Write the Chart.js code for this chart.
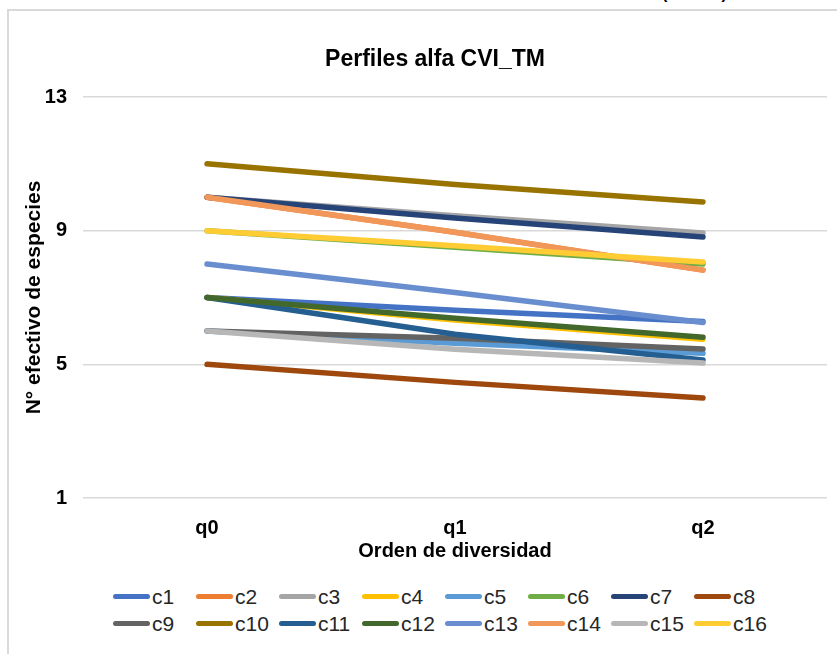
<!DOCTYPE html>
<html>
<head>
<meta charset="utf-8">
<script src="https://cdn.jsdelivr.net/npm/chart.js@4.4.1/dist/chart.umd.min.js"></script>
<style>
body { margin: 0; background: #fff; overflow: hidden; width: 837px; height: 654px; position: relative; font-family: "Liberation Sans", Arial, sans-serif; }
#frame { position: absolute; left: 7px; top: 9px; width: 900px; height: 700px; border-left: 2px solid #d9d9d9; border-top: 2px solid #d9d9d9; }
#above { position: absolute; left: 662px; top: -16px; font: bold 16px "Liberation Sans", Arial, sans-serif; line-height: 20px; white-space: nowrap; color: #000; }
#myChart { position: absolute; left: 0; top: 0; }
#legend { position: absolute; left: 113px; top: 583px; width: 720px; }
.row { display: flex; height: 27px; align-items: center; }
.item { width: 83px; display: flex; align-items: center; flex: none; }
.swatch { width: 37px; height: 5px; border-radius: 3px; margin-right: 2px; }
.lbl { font-size: 21px; color: #262626; white-space: nowrap; }
</style>
</head>
<body>
<div id="above">(CVI TM)</div>
<div id="frame"></div>
<canvas id="myChart" width="870" height="580" style="width:870px;height:580px"></canvas>
<div id="legend"></div>
<script>
var ordenes = ["q0", "q1", "q2"];
var yTicks = [1, 5, 9, 13];

// numero efectivo de especies por orden q
var c1 = [7, 6.62, 6.28];
var c2 = [10, 8.95, 7.82];
var c3 = [10, 9.45, 8.93];
var c4 = [7, 6.33, 5.75];
var c5 = [6, 5.63, 5.33];
var c6 = [9, 8.5, 8.0];
var c7 = [10, 9.38, 8.81];
var c8 = [5, 4.46, 3.99];
var c9 = [6, 5.78, 5.46];
var c10 = [11, 10.38, 9.86];
var c11 = [7, 5.9, 5.13];
var c12 = [7, 6.38, 5.81];
var c13 = [8, 7.15, 6.25];
var c14 = [10, 8.95, 7.82];
var c15 = [6, 5.45, 5.04];
var c16 = [9, 8.55, 8.06];

var nombres = ["c1","c2","c3","c4","c5","c6","c7","c8","c9","c10","c11","c12","c13","c14","c15","c16"];
var series = [c1,c2,c3,c4,c5,c6,c7,c8,c9,c10,c11,c12,c13,c14,c15,c16];
var colores = ["#4472C4","#ED7D31","#A5A5A5","#FFC000","#5B9BD5","#70AD47","#264478","#9E480E",
               "#636363","#997300","#255E91","#43682B","#698ED0","#F1975A","#B7B7B7","#FFCD33"];

var fuente = "'Liberation Sans', Arial, sans-serif";

// la ultima serie queda encima (order bajo = se dibuja al final)
var datasets = [];
for (var i = 0; i < series.length; i++) {
  datasets.push({
    label: nombres[i],
    data: series[i],
    borderColor: colores[i],
    backgroundColor: colores[i],
    borderWidth: 5.5,
    borderCapStyle: "round",
    borderJoinStyle: "round",
    pointRadius: 0,
    fill: false,
    tension: 0,
    order: series.length - i
  });
}

var ctx = document.getElementById("myChart");
var myChart = new Chart(ctx, {
  type: "line",
  data: {
    labels: ordenes,
    datasets: datasets
  },
  options: {
    responsive: false,
    devicePixelRatio: 1,
    animation: false,
    events: [],
    layout: { padding: 0 },
    plugins: {
      legend: { display: false },
      tooltip: { enabled: false },
      title: {
        display: true,
        text: "Perfiles alfa CVI_TM",
        color: "#000",
        font: { family: fuente, size: 23, weight: "bold" },
        padding: { top: 46.2, bottom: 23.2 }
      }
    },
    scales: {
      x: {
        offset: true,
        grid: { display: false },
        border: { display: false },
        ticks: { color: "#000", padding: 10, font: { family: fuente, size: 20, weight: "bold" } },
        title: {
          display: true,
          text: "Orden de diversidad",
          color: "#000",
          font: { family: fuente, size: 20, weight: "bold" },
          padding: { top: 0, bottom: 17 }
        },
        afterFit: function(s) { s.height = 82; }
      },
      y: {
        min: 1,
        max: 13,
        grid: { color: "#d9d9d9", lineWidth: 1.5, drawTicks: false },
        border: { display: false },
        ticks: {
          stepSize: 4,
          padding: 16,
          color: "#000",
          font: { family: fuente, size: 20, weight: "bold" }
        },
        afterBuildTicks: function(s) { s.ticks = yTicks.map(function(v) { return { value: v }; }); },
        title: {
          display: true,
          text: "N° efectivo de especies",
          color: "#000",
          font: { family: fuente, size: 21, weight: "bold" },
          padding: { top: 22, bottom: 0 }
        },
        afterFit: function(s) { s.width = 83; }
      },
      margen: {
        type: "linear",
        position: "right",
        display: true,
        grid: { display: false },
        border: { display: false },
        ticks: { display: false },
        afterFit: function(s) { s.width = 43; }
      }
    }
  }
});

// leyenda en dos filas de ocho
var legend = document.getElementById("legend");
for (var r = 0; r < 2; r++) {
  var row = document.createElement("div");
  row.className = "row";
  for (var k = 0; k < 8; k++) {
    var n = r * 8 + k;
    var item = document.createElement("div");
    item.className = "item";
    var sw = document.createElement("span");
    sw.className = "swatch";
    sw.style.background = colores[n];
    var lb = document.createElement("span");
    lb.className = "lbl";
    lb.textContent = nombres[n];
    item.appendChild(sw);
    item.appendChild(lb);
    row.appendChild(item);
  }
  legend.appendChild(row);
}
</script>
</body>
</html>
